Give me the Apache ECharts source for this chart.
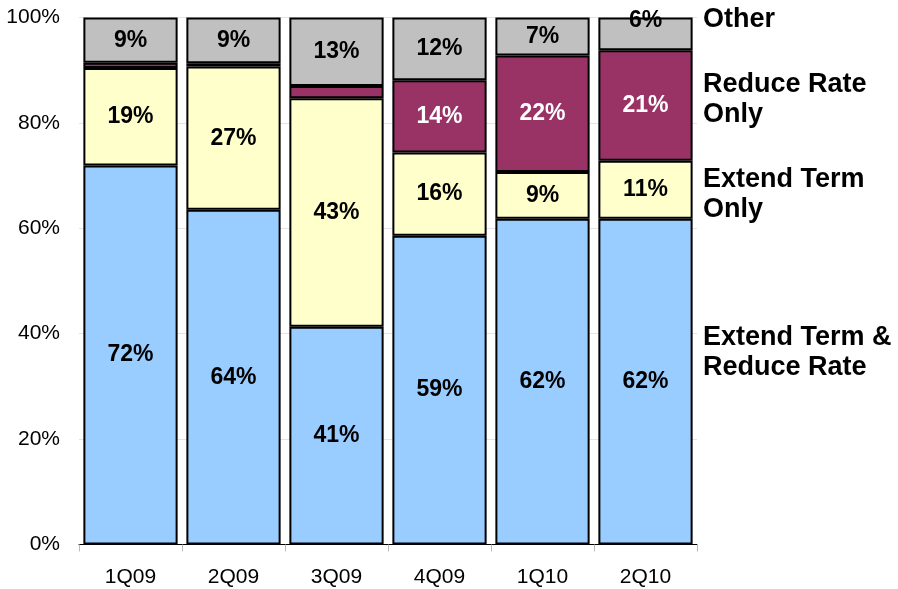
<!DOCTYPE html>
<html>
<head>
<meta charset="utf-8">
<script src="https://cdn.jsdelivr.net/npm/echarts@6/dist/echarts.min.js"></script>
<style>
  html, body { margin: 0; padding: 0; background: #fff; }
  #chart { width: 898px; height: 589px; }
</style>
</head>
<body>
<div id="chart"></div>
<script>
// quarters on the x axis
const quarters = ['1Q09', '2Q09', '3Q09', '4Q09', '1Q10', '2Q10'];

// share of modifications by type (percent)
const extendAndReduce = [71.9, 63.5, 41.3, 58.6, 61.8, 61.8];
const extendOnly = [18.5, 27.2, 43.4, 15.8, 8.9, 11.0];
const reduceOnly = [1.0, 0.6, 2.3, 13.7, 22.1, 21.0];
const other = [8.6, 8.7, 13.0, 11.9, 7.2, 6.2];

const yTicks = [0, 20, 40, 60, 80, 100];

const FONT = '"Liberation Sans", Arial, sans-serif';

const chart = echarts.init(document.getElementById('chart'));

function segment(name, data, color, textColor) {
  return {
    name: name,
    type: 'bar',
    stack: 'total',
    data: data.map((v, i) => {
      // the last "Other" label sits higher in the original
      if (name === 'Other' && i === data.length - 1) {
        return { value: v, label: { offset: [0, -13] } };
      }
      return v;
    }),
    barCategoryGap: '8.5%',
    itemStyle: {
      color: color,
      borderColor: '#000',
      borderWidth: 2
    },
    label: {
      show: true,
      position: 'inside',
      color: textColor,
      fontFamily: FONT,
      fontWeight: 'bold',
      fontSize: 23,
      formatter: (p) => (p.value < 3 ? '' : Math.round(p.value) + '%')
    },
    emphasis: { disabled: true }
  };
}

const legendStyle = {
  font: 'bold 27px ' + FONT,
  fill: '#000',
  lineHeight: 30,
  verticalAlign: 'middle',
  textVerticalAlign: 'middle'
};

const option = {
  animation: false,
  backgroundColor: '#fff',
  grid: {
    left: 79,
    right: 201,
    top: 17.5,
    bottom: 44.5
  },
  xAxis: {
    type: 'category',
    data: quarters,
    axisLine: { lineStyle: { color: '#000', width: 1 } },
    axisTick: {
      show: true,
      length: 7,
      lineStyle: { color: '#bbb' }
    },
    axisLabel: {
      margin: 22,
      color: '#000',
      fontFamily: FONT,
      fontSize: 21
    }
  },
  yAxis: {
    type: 'value',
    min: 0,
    max: 100,
    interval: 20,
    axisLine: { show: false },
    axisTick: { show: false },
    splitLine: { lineStyle: { color: '#e4e4e4', width: 1 } },
    axisLabel: {
      margin: 19,
      color: '#000',
      fontFamily: FONT,
      fontSize: 21,
      formatter: (v) => (yTicks.includes(v) ? v + '%' : '')
    }
  },
  graphic: [
    { type: 'text', left: 703, top: 5, style: Object.assign({ text: 'Other' }, legendStyle) },
    { type: 'text', left: 703, top: 70, style: Object.assign({ text: 'Reduce Rate\nOnly' }, legendStyle) },
    { type: 'text', left: 703, top: 165, style: Object.assign({ text: 'Extend Term\nOnly' }, legendStyle) },
    { type: 'text', left: 703, top: 323, style: Object.assign({ text: 'Extend Term &\nReduce Rate' }, legendStyle) }
  ],
  series: [
    segment('Extend Term & Reduce Rate', extendAndReduce, '#99CCFF', '#000'),
    segment('Extend Term Only', extendOnly, '#FFFFCC', '#000'),
    segment('Reduce Rate Only', reduceOnly, '#993366', '#fff'),
    segment('Other', other, '#C0C0C0', '#000')
  ]
};

chart.setOption(option);
</script>
</body>
</html>
